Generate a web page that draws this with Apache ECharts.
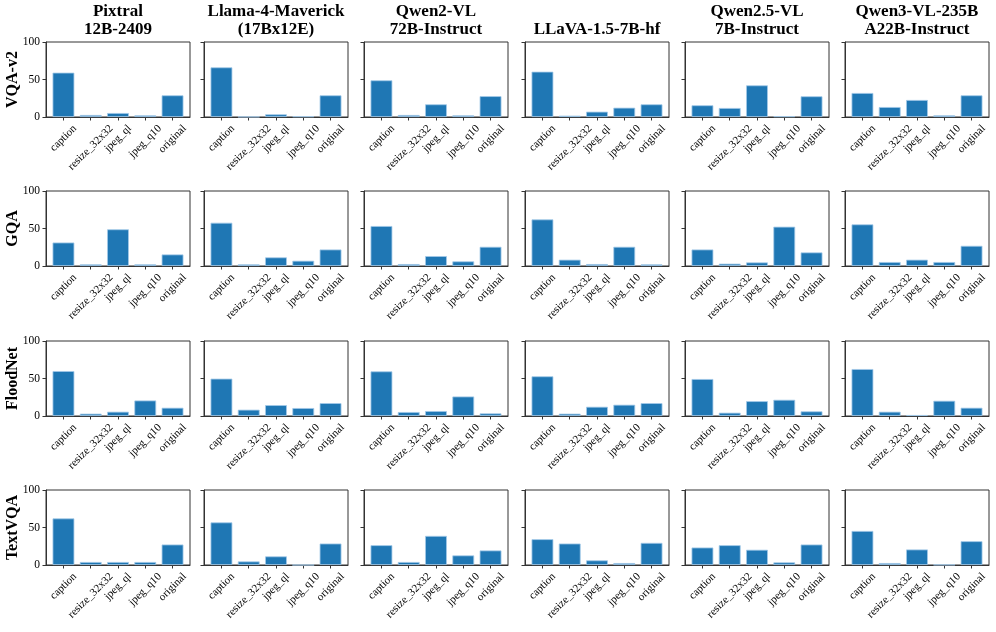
<!DOCTYPE html>
<html>
<head>
<meta charset="utf-8">
<script src="https://cdn.jsdelivr.net/npm/echarts@6/dist/echarts.min.js"></script>
<style>html,body{margin:0;padding:0;background:#fff;}#c{width:996px;height:632px;}</style>
</head>
<body>
<div id="c"></div>
<script>
const categories = ['caption', 'resize_32x32', 'jpeg_ql', 'jpeg_q10', 'original'];
const models = ['Pixtral\n12B-2409', 'Llama-4-Maverick\n(17Bx12E)', 'Qwen2-VL\n72B-Instruct', 'LLaVA-1.5-7B-hf', 'Qwen2.5-VL\n7B-Instruct', 'Qwen3-VL-235B\nA22B-Instruct'];
const datasets = ['VQA-v2', 'GQA', 'FloodNet', 'TextVQA'];
const yTicks = [0, 50, 100];

// values per dataset: one array per model, in category order
const vqav2 = [
  [59.1, 2.7, 5.3, 2.2, 28.9],
  [66.2, 0.3, 3.6, 0.8, 28.9],
  [48.9, 2.7, 16.9, 2.2, 27.8],
  [60.4, 1.8, 7.1, 12.4, 16.9],
  [15.6, 12.0, 42.2, 0.9, 27.6],
  [32.0, 13.3, 22.7, 2.2, 28.9]
];
const gqa = [
  [31.3, 2.2, 48.9, 2.2, 15.4],
  [57.7, 2.2, 11.5, 7.0, 22.0],
  [53.3, 2.6, 13.2, 6.2, 25.6],
  [62.1, 8.4, 2.6, 25.6, 2.2],
  [22.0, 3.1, 4.8, 52.4, 18.1],
  [55.5, 5.3, 8.4, 5.3, 26.9]
];
const floodnet = [
  [59.9, 3.1, 5.7, 20.7, 11.0],
  [49.8, 8.4, 14.5, 10.6, 17.2],
  [59.5, 5.3, 6.6, 26.0, 3.5],
  [52.9, 3.1, 12.3, 15.0, 17.2],
  [49.3, 4.4, 19.8, 21.6, 6.2],
  [62.6, 5.7, 1.3, 20.3, 11.0]
];
const textvqa = [
  [62.1, 4.0, 4.0, 4.0, 27.3],
  [56.8, 4.8, 11.5, 0.0, 28.6],
  [26.4, 4.0, 38.8, 12.8, 19.4],
  [34.4, 28.6, 6.2, 2.6, 29.5],
  [23.3, 26.4, 20.3, 3.5, 27.3],
  [45.4, 2.6, 20.7, 0.4, 31.7]
];
const allData = [vqav2, gqa, floodnet, textvqa];

const lefts = [46, 204, 364, 525, 685, 845];
const tops = [42, 191, 341, 490];
const W = 144, H = 75;
const serif = 'Liberation Serif';
const axisColor = '#333';
const xFont = 11;

// matplotlib-like rotated labels: bbox centred under the tick
const ctx = document.createElement('canvas').getContext('2d');
ctx.font = xFont + 'px "' + serif + '"';
const rich = {};
categories.forEach((name, i) => {
  const L = ctx.measureText(name).width;
  const p = 0.5 * (L + xFont);
  rich['c' + i] = {fontFamily: serif, fontSize: xFont, color: '#000', padding: [p, p, 0, 0]};
});
const catPos = categories.map((_, i) => i);

const grid = [], xAxis = [], yAxis = [], series = [], title = [], graphic = [];
let idx = 0;
for (let r = 0; r < datasets.length; r++) {
  for (let c = 0; c < models.length; c++) {
    grid.push({left: lefts[c], top: tops[r], width: W, height: H, show: true,
      borderColor: axisColor, borderWidth: 1, backgroundColor: 'transparent', containLabel: false});
    xAxis.push({type: 'value', gridIndex: idx, min: -0.64, max: catPos.length - 1 + 0.64,
      axisLine: {show: true, onZero: false, lineStyle: {color: axisColor, width: 1}},
      axisTick: {show: true, length: 3.5, customValues: catPos, lineStyle: {color: axisColor}},
      axisLabel: {show: true, customValues: catPos, rotate: 45, margin: 6, align: 'center', verticalAlign: 'middle',
        showMinLabel: true, showMaxLabel: true, hideOverlap: false,
        formatter: v => '{c' + Math.round(v) + '|' + categories[Math.round(v)] + '}', rich: rich},
      splitLine: {show: false}});
    yAxis.push({type: 'value', gridIndex: idx, min: yTicks[0], max: yTicks[yTicks.length - 1], interval: 50,
      axisLine: {show: true, onZero: false, lineStyle: {color: axisColor, width: 1}},
      axisTick: {show: true, length: 3.5, lineStyle: {color: axisColor}},
      axisLabel: {show: c === 0, margin: 6, fontFamily: serif, fontSize: 11.5, color: '#000'},
      splitLine: {show: false}});
    series.push({type: 'bar', xAxisIndex: idx, yAxisIndex: idx,
      data: allData[r][c].map((v, i) => [catPos[i], v]),
      barWidth: '80%', itemStyle: {color: '#1f77b4', borderColor: '#a3c9e8', borderWidth: 0.8},
      silent: true, animation: false});
    idx++;
  }
}
for (let c = 0; c < models.length; c++) {
  const twoLine = models[c].indexOf('\n') >= 0;
  title.push({text: models[c], left: lefts[c] + W / 2, top: twoLine ? 3 : 20.5, padding: 0, textAlign: 'center',
    textStyle: {fontFamily: serif, fontWeight: 'bold', fontSize: 17, lineHeight: 17.5, color: '#000'}});
}
for (let r = 0; r < datasets.length; r++) {
  graphic.push({type: 'text', x: 13, y: tops[r] + H / 2, rotation: Math.PI / 2,
    style: {text: datasets[r], fontFamily: serif, fontWeight: 'bold', fontSize: 16, fill: '#000',
      textAlign: 'center', textVerticalAlign: 'middle'}});
}

const chart = echarts.init(document.getElementById('c'), null, {renderer: 'canvas'});
chart.setOption({animation: false, backgroundColor: '#fff', title, grid, xAxis, yAxis, series, graphic});
</script>
</body>
</html>
